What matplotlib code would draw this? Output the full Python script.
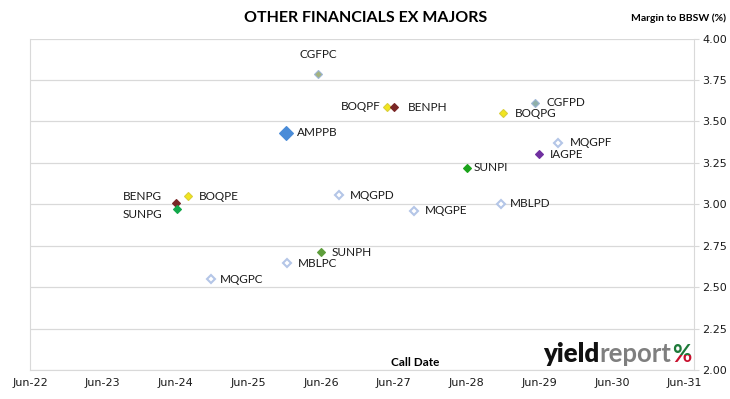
#!/usr/bin/env python3
# -*- coding:utf-8 -*-

import matplotlib
matplotlib.use('Agg')
import matplotlib.pyplot as plt
import matplotlib.dates as mdates
from matplotlib.transforms import Bbox
from datetime import date

# 证券代码
names = ['CGFPC', 'BOQPF', 'BENPH', 'AMPPB', 'CGFPD', 'BOQPG', 'MQGPF', 'IAGPE', 'SUNPI',
         'MBLPD', 'MQGPE', 'MQGPD', 'BOQPE', 'BENPG', 'SUNPG', 'SUNPH', 'MBLPC', 'MQGPC']
# 赎回日期
call_dates = ['2026-05-17', '2027-05-01', '2027-06-01', '2025-12-08', '2029-05-12', '2028-12-03',
              '2029-09-05', '2029-06-01', '2028-06-01', '2028-11-23', '2027-09-10', '2026-08-30',
              '2024-08-01', '2024-06-01', '2024-06-06', '2026-06-01', '2025-12-13', '2024-11-28']
# 相对BBSW的利差 (%)
margins = [3.785, 3.59, 3.585, 3.432, 3.613, 3.549, 3.372, 3.302, 3.221,
           3.002, 2.960, 3.056, 3.050, 3.006, 2.970, 2.710, 2.644, 2.547]

# 样式（颜色、标记大小、标签偏移，单位 point）
face = {'CGFPC': '#a3b27f', 'BOQPF': '#f2e51e', 'BENPH': '#7a2626', 'AMPPB': '#4a8cd8',
        'CGFPD': '#8fb0a8', 'BOQPG': '#f2e51e', 'IAGPE': '#7030a0', 'SUNPI': '#1aa31a',
        'BOQPE': '#f2e51e', 'BENPG': '#7a2626', 'SUNPG': '#12a84a', 'SUNPH': '#5e9e3c'}
edge = {'CGFPC': '#9fb6d6', 'CGFPD': '#9fb6d6', 'BOQPF': '#d9cf3a', 'BOQPG': '#d9cf3a',
        'BOQPE': '#d9cf3a'}
offsets = {'CGFPC': (0, 14, 'center'), 'BOQPF': (-5, 0, 'right'), 'BENPH': (10, 0, 'left'),
           'AMPPB': (8, 0, 'left'), 'BENPG': (-10, 5, 'right'), 'SUNPG': (-10, -4, 'right'),
           'SUNPI': (5, 0, 'left'), 'MBLPD': (6, 0, 'left'), 'MQGPC': (6, 0, 'left')}

fig = plt.figure(figsize=(7.3, 3.99), dpi=100)
ax = fig.add_axes([30 / 730, 29 / 399, 664 / 730, 331.4 / 399])
plt.rcParams['font.family'] = ['Lato', 'DejaVu Sans']

x = [mdates.datestr2num(d) for d in call_dates]
for i, n in enumerate(names):
    if n in face:
        fc = face[n]
        ec = edge.get(n, fc)
        ms = 7 if n == 'AMPPB' else 4.5
        mew = 0.8
    else:
        fc = 'white'
        ec = '#b4c6e7'
        ms = 4.5
        mew = 1.5
    ax.plot(x[i], margins[i], marker='D', ms=ms, mfc=fc, mec=ec, mew=mew, ls='none',
            zorder=3, clip_on=False)
    dx, dy, ha = offsets.get(n, (8, 0, 'left'))
    ax.annotate(n, (x[i], margins[i]), xytext=(dx, dy), textcoords='offset points',
                ha=ha, va='center', fontsize=8.5, color='#1a1a1a')

ax.set_xlim(date(2022, 6, 1), date(2031, 7, 18))
ax.set_ylim(2.0, 4.0)
ax.xaxis.set_major_locator(mdates.MonthLocator(bymonth=6, bymonthday=1))
ax.xaxis.set_major_formatter(mdates.DateFormatter('%b-%y'))
ax.set_yticks([2.0, 2.25, 2.5, 2.75, 3.0, 3.25, 3.5, 3.75, 4.0])
ax.yaxis.set_major_formatter(plt.FuncFormatter(lambda v, p: '%.2f' % v))
ax.yaxis.tick_right()
ax.grid(axis='y', color='#d9d9d9', lw=0.9)
ax.set_axisbelow(True)
ax.spines['top'].set_visible(False)
for s in ['left', 'bottom', 'right']:
    ax.spines[s].set_color('#d9d9d9')
ax.tick_params(axis='x', length=0, pad=6, labelsize=8, colors='#1a1a1a')
ax.tick_params(axis='y', length=3.5, color='#d9d9d9', pad=2.5, labelsize=8, labelcolor='#1a1a1a')

fig.text(366 / 730, 1 - 18 / 399, 'OTHER FINANCIALS EX MAJORS', ha='center', va='center',
         fontsize=11.5, fontweight='bold', color='black')
fig.text(726 / 730, 1 - 18 / 399, 'Margin to BBSW (%)', ha='right', va='center',
         fontsize=7.5, fontweight='bold', color='black')
fig.text(415 / 730, 1 - 362 / 399, 'Call Date', ha='center', va='center',
         fontsize=8.5, fontweight='bold', color='black')

# yieldreport 标志
logo_y = 1 - 362 / 399
t1 = fig.text(543 / 730, logo_y, 'yield', ha='left', va='baseline', fontsize=18.5,
              fontweight='heavy', color='#111111')
fig.canvas.draw()
bb = t1.get_window_extent()
t2 = fig.text(bb.x1 / 730, logo_y, 'report', ha='left', va='baseline', fontsize=18.5,
              fontweight='bold', color='#7f7f7f')
fig.canvas.draw()
bb2 = t2.get_window_extent()
for col, lo, hi in [('#1e7a3a', 0.5, 1.0), ('#c8102e', 0.0, 0.5)]:
    tp = fig.text(bb2.x1 / 730 + 0.002, logo_y, '%', ha='left', va='baseline', fontsize=17,
                  fontweight='bold', color=col)
    fig.canvas.draw()
    pb = tp.get_window_extent()
    h = pb.y1 - pb.y0
    clip = Bbox([[pb.x0 - 2, pb.y0 + lo * h], [pb.x1 + 2, pb.y0 + hi * h]])
    tp.set_clip_box(clip)
    tp.set_clip_on(True)

fig.savefig('out.png', dpi=100)
